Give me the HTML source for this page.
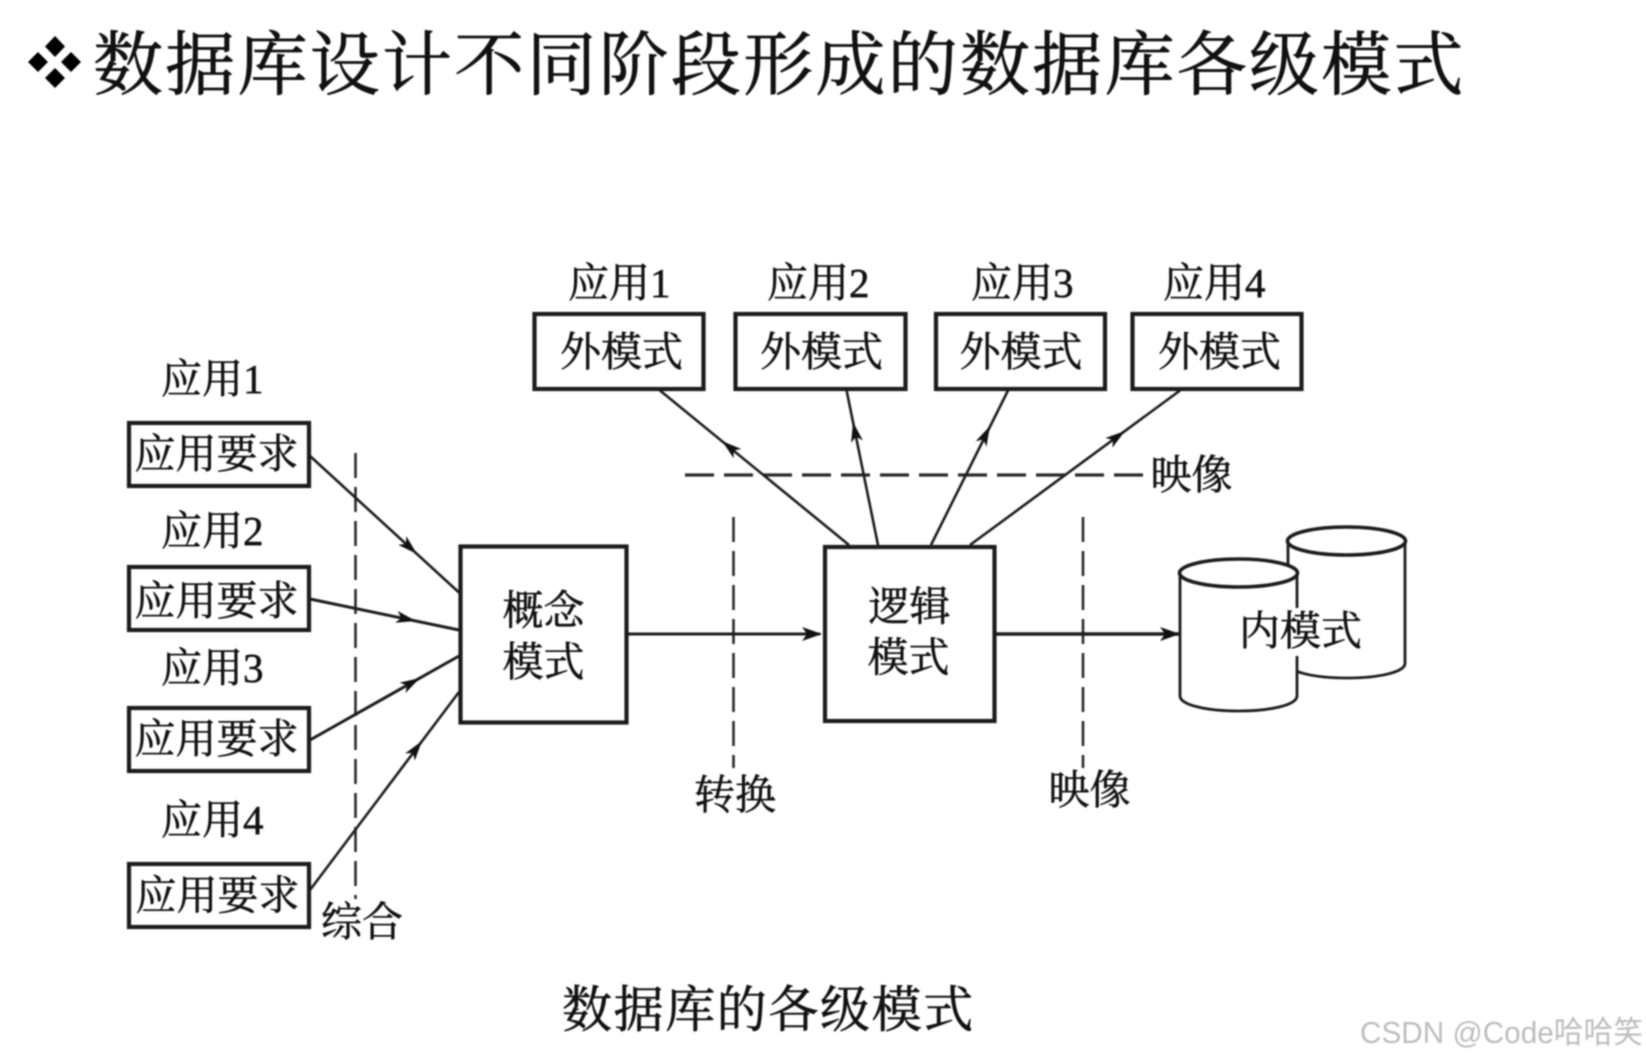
<!DOCTYPE html>
<html lang="zh">
<head>
<meta charset="utf-8">
<title>数据库的各级模式</title>
<style>
html,body{margin:0;padding:0;background:#fff;width:1646px;height:1060px;overflow:hidden}
svg{display:block;filter:blur(.7px)}
text{font-family:"Liberation Serif","Noto Serif CJK SC",serif;fill:#111;stroke:#111;stroke-width:.55px}
.l{font-size:41px}
.box{fill:#fff;stroke:#1c1c1c;stroke-width:4.2}
.ln{stroke:#1c1c1c;stroke-width:2.6;fill:none}
.d{stroke:#2a2a2a;stroke-width:2.6;fill:none;stroke-dasharray:25 9}
.a{fill:#111;stroke:none}
</style>
</head>
<body>
<svg width="1646" height="1060" viewBox="0 0 1646 1060" xmlns="http://www.w3.org/2000/svg">
<!-- title bullet -->
<g fill="#000">
<path d="M55 36L65 46.5L55 57L45 46.5Z"/>
<path d="M38 52L48 62L38 72L28 62Z"/>
<path d="M71 52L81 62L71 72L61 62Z"/>
<path d="M55 68L65 78L55 88L45 78Z"/>
</g>
<text x="93" y="89" style="font-size:70px;letter-spacing:2.25px;stroke-width:.7px">数据库设计不同阶段形成的数据库各级模式</text>

<!-- dashed guides -->
<line class="d" x1="355.5" y1="453" x2="355.5" y2="899"/>
<line class="d" x1="733.5" y1="517" x2="733.5" y2="768"/>
<line class="d" x1="1083" y1="517" x2="1083" y2="768"/>
<line class="d" x1="685" y1="475" x2="1143" y2="475" style="stroke-dasharray:29 10;stroke-width:3.2"/>

<!-- connectors -->
<line class="ln" x1="310" y1="456" x2="459" y2="592.5"/>
<line class="ln" x1="310" y1="599" x2="459" y2="630" style="stroke-width:3"/>
<line class="ln" x1="310" y1="740" x2="459" y2="656" style="stroke-width:3"/>
<line class="ln" x1="310" y1="890" x2="459" y2="692"/>
<line class="ln" x1="849" y1="545" x2="660" y2="390.5"/>
<line class="ln" x1="878" y1="545" x2="846.6" y2="390.5"/>
<line class="ln" x1="931" y1="545" x2="1008" y2="390.5"/>
<line class="ln" x1="970" y1="545" x2="1180" y2="390.5"/>
<line class="ln" x1="628" y1="634" x2="820" y2="634" style="stroke-width:3"/>
<line class="ln" x1="996" y1="634" x2="1179" y2="634" style="stroke-width:3.6"/>

<!-- arrowheads -->
<g class="a">
<path class="a" transform="translate(417,554) rotate(42.5)" d="M0 0L-20 -6L-15 0L-20 6Z"/>
<path class="a" transform="translate(416,621) rotate(11.75)" d="M0 0L-20 -6L-15 0L-20 6Z"/>
<path class="a" transform="translate(420,678) rotate(-29.4)" d="M0 0L-20 -6L-15 0L-20 6Z"/>
<path class="a" transform="translate(422,741) rotate(-53)" d="M0 0L-20 -6L-15 0L-20 6Z"/>
<path class="a" transform="translate(722,441) rotate(219.3)" d="M0 0L-20 -6L-15 0L-20 6Z"/>
<path class="a" transform="translate(853,422) rotate(-101.5)" d="M0 0L-20 -6L-15 0L-20 6Z"/>
<path class="a" transform="translate(990,426) rotate(-63.5)" d="M0 0L-20 -6L-15 0L-20 6Z"/>
<path class="a" transform="translate(1125,431) rotate(-36.3)" d="M0 0L-20 -6L-15 0L-20 6Z"/>
<path class="a" transform="translate(822,634)" d="M0 0L-20 -7L-15 0L-20 7Z"/>
<path class="a" transform="translate(1180,634)" d="M0 0L-20 -7L-15 0L-20 7Z"/>
</g>

<!-- left boxes -->
<rect class="box" x="129" y="423" width="180" height="63"/>
<rect class="box" x="129" y="567" width="180" height="63"/>
<rect class="box" x="129" y="708" width="180" height="63"/>
<rect class="box" x="129" y="864" width="180" height="63"/>

<!-- external boxes -->
<rect class="box" x="534.5" y="314" width="169" height="75"/>
<rect class="box" x="735.5" y="314" width="170" height="75"/>
<rect class="box" x="936" y="314" width="169" height="75"/>
<rect class="box" x="1132.5" y="314" width="169" height="75"/>

<!-- concept & logical -->
<rect class="box" x="460.5" y="546.5" width="166" height="176"/>
<rect class="box" x="825" y="547" width="169.5" height="174"/>

<!-- cylinders -->
<g fill="#fff" stroke="#1c1c1c" stroke-width="2.8">
<path d="M1288 541V663.5C1288 672 1315 678 1347 678C1379 678 1405 672 1405 663.5V541"/>
<ellipse cx="1346.5" cy="541" rx="59" ry="14" stroke-width="3.6"/>
<path d="M1180 573V696C1180 705 1207 711 1239 711C1270 711 1297 705 1297 696V573"/>
<ellipse cx="1238.5" cy="573" rx="59" ry="14" stroke-width="3.6"/>
</g>
<rect x="1292" y="608" width="10" height="48" fill="#fff"/>

<!-- left labels -->
<text class="l" x="161" y="393">应用1</text>
<text class="l" x="161" y="545">应用2</text>
<text class="l" x="161" y="682">应用3</text>
<text class="l" x="161" y="834">应用4</text>

<text class="l" x="134.5" y="468">应用要求</text>
<text class="l" x="134.5" y="615">应用要求</text>
<text class="l" x="134.5" y="753">应用要求</text>
<text class="l" x="135.5" y="909.5">应用要求</text>

<!-- top labels -->
<text class="l" x="568" y="297">应用1</text>
<text class="l" x="767" y="297">应用2</text>
<text class="l" x="971" y="297">应用3</text>
<text class="l" x="1163" y="297">应用4</text>

<text class="l" x="560" y="366">外模式</text>
<text class="l" x="760" y="366">外模式</text>
<text class="l" x="959.5" y="366">外模式</text>
<text class="l" x="1158" y="366">外模式</text>

<text class="l" x="502.5" y="624.5">概念</text>
<text class="l" x="502.5" y="676">模式</text>
<text class="l" x="868.5" y="620.5">逻辑</text>
<text class="l" x="867.5" y="671.5">模式</text>
<text class="l" x="1239" y="645">内模式</text>

<text class="l" x="694" y="809">转换</text>
<text class="l" x="1048.5" y="804">映像</text>
<text class="l" x="1150.5" y="489">映像</text>
<text class="l" x="321" y="936">综合</text>

<text x="562" y="1027" style="font-size:50px;letter-spacing:1.6px;stroke-width:.6px">数据库的各级模式</text>

<text x="1360" y="1043" textLength="283" lengthAdjust="spacingAndGlyphs" style="font-family:'Liberation Sans','Noto Sans CJK SC',sans-serif;font-size:31px;fill:#bdbdbd;stroke:none">CSDN @Code哈哈笑</text>
</svg>
</body>
</html>
